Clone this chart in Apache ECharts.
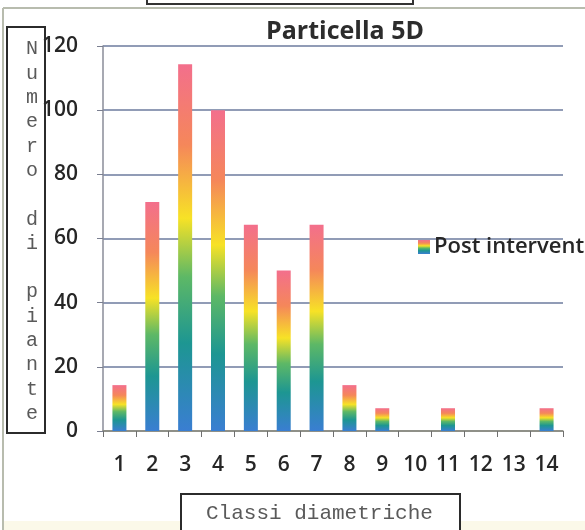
<!DOCTYPE html>
<html>
<head>
<meta charset="utf-8">
<script src="https://cdn.jsdelivr.net/npm/echarts@6/dist/echarts.min.js"></script>
<style>
  html, body { margin: 0; padding: 0; background: #ffffff; }
  #chart { width: 585px; height: 530px; }
</style>
</head>
<body>
<div id="chart"></div>
<script>
// Diameter classes and number of trees per class
const categories = ['1', '2', '3', '4', '5', '6', '7', '8', '9', '10', '11', '12', '13', '14'];
const postValues = [14.3, 71.4, 114.3, 100, 64.3, 50, 64.3, 14.3, 7.1, 0, 7.1, 0, 0, 7.1];
const seriesName = 'Post intervento';
const yTicks = { min: 0, max: 120, interval: 20 };

const chart = echarts.init(document.getElementById('chart'), null, { renderer: 'canvas' });

// rainbow fill running from the base to the top of each bar
const rainbow = new echarts.graphic.LinearGradient(0, 0, 0, 1, [
  { offset: 0.00, color: '#f36f8c' },
  { offset: 0.22, color: '#f5875a' },
  { offset: 0.42, color: '#f7e226' },
  { offset: 0.58, color: '#5db866' },
  { offset: 0.76, color: '#1d9692' },
  { offset: 1.00, color: '#3a7ed2' }
]);

const labelFont = 'Open Sans, Lato, sans-serif';
const monoFont = 'Liberation Mono, DejaVu Sans Mono, monospace';

chart.setOption({
  animation: false,
  backgroundColor: '#ffffff',
  title: {
    text: 'Particella 5D',
    left: 340,
    top: 14,
    textAlign: 'center',
    textStyle: { fontFamily: labelFont, fontSize: 25, fontWeight: 'bold', color: '#2c2c2c' }
  },
  legend: {
    left: 418,
    top: 236,
    padding: 0,
    itemWidth: 12,
    itemHeight: 14,
    itemGap: 4,
    icon: 'rect',
    textStyle: { fontFamily: labelFont, fontSize: 22, fontWeight: 600, color: '#262626', padding: [0, 0, 0, -1] },
    data: [seriesName]
  },
  grid: { left: 103, right: 22, top: 46, bottom: 99 },
  xAxis: {
    type: 'category',
    data: categories,
    axisLine: { lineStyle: { color: '#8f8c7a', width: 1.5 } },
    axisTick: { show: true, length: 6, lineStyle: { color: '#6f6f6f' } },
    axisLabel: { margin: 24, fontFamily: labelFont, fontSize: 21, fontWeight: 600, color: '#262626' },
    splitLine: { show: false }
  },
  yAxis: {
    type: 'value',
    min: yTicks.min,
    max: yTicks.max,
    interval: yTicks.interval,
    axisLine: { show: true, lineStyle: { color: '#8a8d99', width: 1.5 } },
    axisTick: { show: true, length: 6, lineStyle: { color: '#7a7f90' } },
    axisLabel: { margin: 25, fontFamily: labelFont, fontSize: 21, fontWeight: 600, color: '#262626' },
    splitLine: { show: true, lineStyle: { color: '#6c7b9e', width: 1.6 } }
  },
  series: [{
    name: seriesName,
    type: 'bar',
    data: postValues,
    barWidth: 14,
    itemStyle: { color: rainbow }
  }],
  graphic: [
    // outer frame lines
    { type: 'line', shape: { x1: 3, y1: 8, x2: 585, y2: 8 }, style: { stroke: '#b8bcae', lineWidth: 2 }, z: 100 },
    { type: 'line', shape: { x1: 3, y1: 8, x2: 3, y2: 530 }, style: { stroke: '#b8bcae', lineWidth: 2 }, z: 100 },
    { type: 'rect', shape: { x: 147, y: -10, width: 266, height: 14 }, style: { fill: 'none', stroke: '#333', lineWidth: 2 }, z: 100 },
    { type: 'rect', shape: { x: 4, y: 521, width: 581, height: 9 }, style: { fill: '#fbf9e9' }, z: 0 },
    // vertical axis title box
    { type: 'rect', shape: { x: 7, y: 27, width: 38, height: 406 }, style: { fill: 'none', stroke: '#2b2b2b', lineWidth: 2 }, z: 100 },
    {
      type: 'text', left: 26, top: 37, z: 100,
      style: {
        text: 'N\nu\nm\ne\nr\no\n\nd\ni\n\np\ni\na\nn\nt\ne',
        font: '20px ' + monoFont, fill: '#5a5a5a', lineHeight: 24.3, align: 'center'
      }
    },
    // horizontal axis title box
    { type: 'rect', shape: { x: 181, y: 494, width: 279, height: 50 }, style: { fill: '#ffffff', stroke: '#2b2b2b', lineWidth: 2 }, z: 100 },
    {
      type: 'text', left: 206, top: 503, z: 101,
      style: { text: 'Classi diametriche', font: '21px ' + monoFont, fill: '#5a5a5a' }
    }
  ]
});
</script>
</body>
</html>
